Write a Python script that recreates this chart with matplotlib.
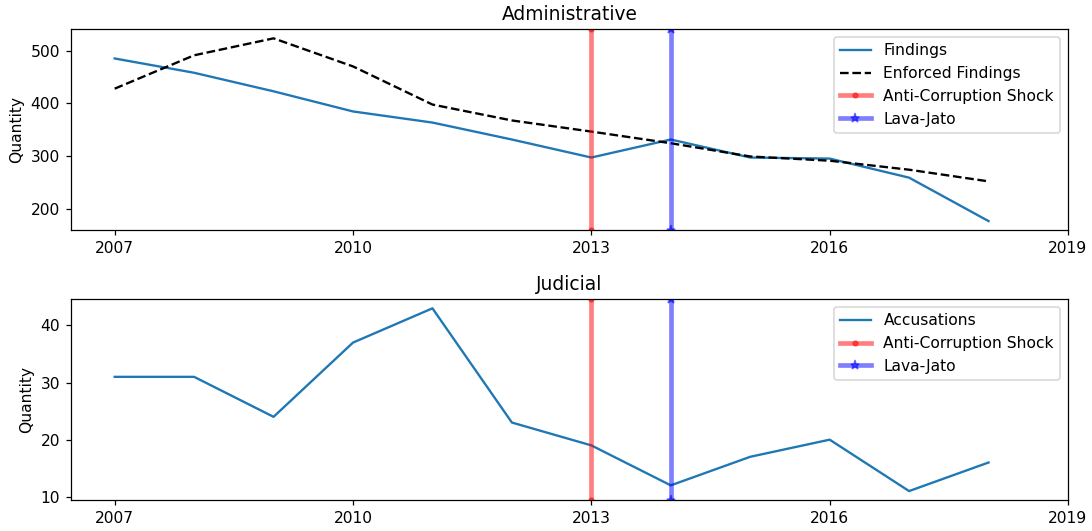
import matplotlib
matplotlib.use("Agg")
import matplotlib.pyplot as plt

years = list(range(2007, 2019))
findings = [485, 458, 423, 385, 364, 332, 298, 332, 298, 296, 260, 178]
enforced_findings = [428, 491, 523, 470, 398, 368, 347, 325, 300, 292, 275, 253]
accusations = [31, 31, 24, 37, 43, 23, 19, 12, 17, 20, 11, 16]

shock_year = 2013
lava_jato_year = 2014
xticks = [2007, 2010, 2013, 2016, 2019]

DPI = 112
fig, (ax1, ax2) = plt.subplots(2, 1, figsize=(1092 / DPI, 531 / DPI), dpi=DPI)
fig.subplots_adjust(left=0.065, right=0.978, top=0.945, bottom=0.058, hspace=0.343)


def add_events(ax):
    lo, hi = ax.get_ylim()
    ax.plot([shock_year, shock_year], [lo, hi], color="red", alpha=0.5, lw=3,
            marker=".", label="Anti-Corruption Shock")
    ax.plot([lava_jato_year, lava_jato_year], [lo, hi], color="blue", alpha=0.5, lw=3,
            marker="*", label="Lava-Jato")
    ax.set_ylim(lo, hi)


ax1.plot(years, findings, color="#1f77b4", label="Findings")
ax1.plot(years, enforced_findings, color="black", linestyle="--", label="Enforced Findings")
add_events(ax1)
ax1.set_title("Administrative")
ax1.set_ylabel("Quantity")
ax1.set_xticks(xticks)
ax1.legend(loc="upper right")

ax2.plot(years, accusations, color="#1f77b4", label="Accusations")
add_events(ax2)
ax2.set_title("Judicial")
ax2.set_ylabel("Quantity")
ax2.set_xticks(xticks)
ax2.legend(loc="upper right")

fig.savefig("out.png", dpi=DPI)
